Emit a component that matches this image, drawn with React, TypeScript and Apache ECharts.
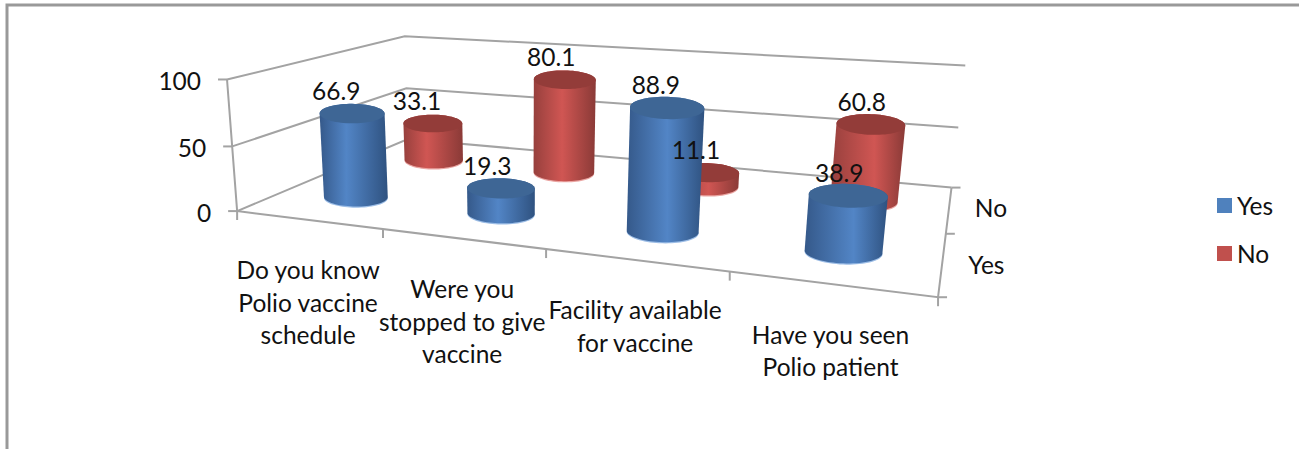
import React, { useEffect, useRef } from "react";
import * as echarts from "echarts";

const categories = [
  "Do you know\nPolio vaccine\nschedule",
  "Were you\nstopped to give\nvaccine",
  "Facility available\nfor vaccine",
  "Have you seen\nPolio patient",
];
const yesValues = [66.9, 19.3, 88.9, 38.9];
const noValues = [33.1, 80.1, 11.1, 60.8];
const valueTicks = [0, 50, 100];
const depthNames = ["Yes", "No"];

const FONT = "Lato";
const FONT_SIZE = 24.5;
const TEXT = "#111111";
const GRID_LINE = "#a3a3a3";

// Camera calibration of the 3D box: [u, v, w, screenX, screenY]
const calibration = [
  [0, 0, 0, 239, 211], [1, 0, 0, 938, 298], [1, 0, 1, 952, 187], [0, 0, 1, 406, 140],
  [0, 1, 0, 226, 80], [0, 1, 1, 406, 36], [1, 1, 1, 965, 66], [0.25, 0, 0, 383, 228],
  [0.5, 0, 0, 547, 249], [0.75, 0, 0, 729, 272], [0, 0.5, 1, 407, 88], [1, 0.5, 1, 958, 127],
  [0, 0.5, 0, 231, 146], [1, 0, 0.5, 946, 234],
];

function solveCamera(): number[] {
  const n = 11;
  const M = Array.from({ length: n }, () => new Array(n + 1).fill(0));
  const add = (r: number[], t: number) => {
    for (let i = 0; i < n; i++) {
      for (let j = 0; j < n; j++) M[i][j] += r[i] * r[j];
      M[i][n] += r[i] * t;
    }
  };
  for (const [u, v, w, px, py] of calibration) {
    const x = px / 1000;
    const y = py / 1000;
    add([u, v, w, 1, 0, 0, 0, 0, -x * u, -x * v, -x * w], x);
    add([0, 0, 0, 0, u, v, w, 1, -y * u, -y * v, -y * w], y);
  }
  for (let c = 0; c < n; c++) {
    let p = c;
    for (let r = c + 1; r < n; r++) if (Math.abs(M[r][c]) > Math.abs(M[p][c])) p = r;
    [M[c], M[p]] = [M[p], M[c]];
    for (let r = 0; r < n; r++) {
      if (r === c) continue;
      const f = M[r][c] / M[c][c];
      for (let k = c; k <= n; k++) M[r][k] -= f * M[c][k];
    }
  }
  return M.map((row, i) => row[n] / row[i]);
}
const cam = solveCamera();
function project(u: number, v: number, w: number): number[] {
  const d = cam[8] * u + cam[9] * v + cam[10] * w + 1;
  return [
    (1000 * (cam[0] * u + cam[1] * v + cam[2] * w + cam[3])) / d,
    (1000 * (cam[4] * u + cam[5] * v + cam[6] * w + cam[7])) / d,
  ];
}

function hull(pts: number[][]): number[][] {
  const s = pts.slice().sort((a, b) => a[0] - b[0] || a[1] - b[1]);
  const cross = (o: number[], a: number[], b: number[]) =>
    (a[0] - o[0]) * (b[1] - o[1]) - (a[1] - o[1]) * (b[0] - o[0]);
  const lo: number[][] = [];
  for (const p of s) {
    while (lo.length >= 2 && cross(lo[lo.length - 2], lo[lo.length - 1], p) <= 0) lo.pop();
    lo.push(p);
  }
  const up: number[][] = [];
  for (let i = s.length - 1; i >= 0; i--) {
    const p = s[i];
    while (up.length >= 2 && cross(up[up.length - 2], up[up.length - 1], p) <= 0) up.pop();
    up.push(p);
  }
  return lo.slice(0, -1).concat(up.slice(0, -1));
}

const RU = 0.052;
const ELLIPSE_RATIO = 0.3;
const rowCentre = [0.25, 0.75];

const palettes = [
  { edgeL: "#35598a", bright: "#5285c6", edgeR: "#2f5280", top: "#3e6695", rim: "#9cbde6" },
  { edgeL: "#97403d", bright: "#d05653", edgeR: "#8a3a37", top: "#933c39", rim: "#eaa5a2" },
];

function toUnit(params: any, api: any, cat: number, val: number) {
  const pt = api.coord([cat, val]);
  const g = params.coordSys;
  return { u: (pt[0] - g.x) / g.width, v: (g.y + g.height - pt[1]) / g.height };
}

function cylinderRender(row: number) {
  return (params: any, api: any) => {
    const { u, v } = toUnit(params, api, api.value(0), api.value(1));
    const w = rowCentre[row];
    const tilt = ((2.5 * u) / 180) * Math.PI;
    const ring = (lv: number) => {
      const c = project(u, lv, w);
      const a = ((project(u + RU, lv, w)[0] - project(u - RU, lv, w)[0]) / 2) * 0.96 + 5 * (1 - u);
      const b = a * ELLIPSE_RATIO;
      const out: number[][] = [];
      for (let i = 0; i < 72; i++) {
        const t = (i / 72) * Math.PI * 2;
        const ex = a * Math.cos(t);
        const ey = b * Math.sin(t);
        out.push([
          c[0] + ex * Math.cos(tilt) - ey * Math.sin(tilt),
          c[1] + ex * Math.sin(tilt) + ey * Math.cos(tilt),
        ]);
      }
      return out;
    };
    const top = ring(v);
    const bottom = ring(0);
    const pal = palettes[row];
    const mid = 0.36 + 0.26 * u;
    return {
      type: "group",
      children: [
        {
          type: "polygon",
          shape: { points: bottom.map((p) => [p[0], p[1] + 1.2]) },
          style: { fill: pal.rim },
        },
        {
          type: "polygon",
          shape: { points: hull(top.concat(bottom)) },
          style: {
            fill: new echarts.graphic.LinearGradient(0, 0, 1, 0, [
              { offset: 0, color: pal.edgeL },
              { offset: mid, color: pal.bright },
              { offset: 1, color: pal.edgeR },
            ]),
          },
        },
        { type: "polygon", shape: { points: top }, style: { fill: pal.top } },
      ],
    };
  };
}

function labelRender(params: any, api: any) {
  const { u, v } = toUnit(params, api, api.value(0), api.value(1));
  const p = project(u, v, rowCentre[api.value(2)]);
  return {
    type: "text",
    x: p[0] - 17 + 9 * u,
    y: p[1] - 23,
    style: {
      text: String(api.value(1)),
      fill: TEXT,
      font: `${FONT_SIZE}px ${FONT}`,
      align: "center",
      verticalAlign: "middle",
    },
  };
}

function frameRender(params: any, api: any) {
  const line = (pts: number[][]) => ({
    type: "polyline",
    shape: { points: pts },
    style: { stroke: GRID_LINE, lineWidth: 2, fill: "none" },
  });
  const text = (t: string, x: number, y: number, align: string) => ({
    type: "text",
    x,
    y,
    style: { text: t, fill: TEXT, font: `${FONT_SIZE}px ${FONT}`, align, verticalAlign: "middle" },
  });
  const children: any[] = [];
  valueTicks.forEach((val) => {
    const { v } = toUnit(params, api, 0, val);
    children.push(line([project(0, v, 0), project(0, v, 1), project(1, v, 1)]));
    const a = project(0, v, 0);
    children.push(line([a, [a[0] - 9, a[1]]]));
    children.push(text(String(val), a[0] - 26, a[1] + 1, "right"));
  });
  const fl = project(0, 0, 0);
  const fr = project(1, 0, 0);
  const br = project(1, 0, 1);
  children.push(line([project(0, 1, 0), fl, [fl[0], fl[1] + 9]]));
  children.push(line([fl, fr, br]));
  children.push(line([fr, [fr[0], fr[1] + 9]]));
  children.push(line([fr, [fr[0] + 9, fr[1]]]));
  categories.forEach((c, i) => {
    const t = project((i + 1) / categories.length, 0, 0);
    if (i < categories.length - 1) children.push(line([t, [t[0], t[1] + 9]]));
    const m = project((i + 0.5) / categories.length, 0, 0);
    const lines = c.split("\n").length;
    children.push({
      type: "text",
      x: m[0],
      y: m[1] + 50 + ((lines - 1) * 32.5) / 2,
      style: {
        text: c,
        fill: TEXT,
        font: `${FONT_SIZE}px ${FONT}`,
        align: "center",
        verticalAlign: "middle",
        lineHeight: 32.5,
      },
    });
  });
  const midR = project(1, 0, 0.5);
  children.push(line([br, [br[0] + 9, br[1]]]));
  children.push(line([midR, [midR[0] + 9, midR[1]]]));
  depthNames.forEach((name, i) => {
    const p = project(1, 0, rowCentre[i]);
    children.push(text(name, p[0] + 26, p[1] + (i === 0 ? 2 : -1), "left"));
  });
  return { type: "group", children };
}

export default function App() {
  const ref = useRef<HTMLDivElement>(null);
  useEffect(() => {
    const chart = echarts.init(ref.current!, undefined, { renderer: "svg" });
    const pairs = (vals: number[]) => vals.map((v, i) => [i, v]);
    const labelData = [
      ...yesValues.map((v, i) => [i, v, 0]),
      ...noValues.map((v, i) => [i, v, 1]),
    ];
    chart.setOption({
      animation: false,
      backgroundColor: "#ffffff",
      textStyle: { fontFamily: FONT },
      grid: { left: 240, top: 80, width: 700, height: 130 },
      xAxis: { type: "category", data: categories, show: false },
      yAxis: { type: "value", min: 0, max: 100, interval: 50, show: false },
      legend: {
        data: ["Yes", "No"],
        orient: "vertical",
        left: 1212,
        top: 188,
        icon: "rect",
        itemWidth: 15,
        itemHeight: 15,
        itemGap: 23,
        selectedMode: false,
        textStyle: { fontFamily: FONT, fontSize: FONT_SIZE, color: TEXT },
      },
      graphic: [
        {
          type: "polyline",
          silent: true,
          shape: { points: [[7, 449], [7, 5], [1299, 5]] },
          style: { stroke: "#999999", lineWidth: 3, fill: "none" },
        },
      ],
      series: [
        { type: "custom", name: "frame", z: 1, silent: true, renderItem: frameRender, data: [[0, 0]] },
        {
          type: "custom",
          name: "No",
          z: 3,
          silent: true,
          itemStyle: { color: "#C0504D" },
          renderItem: cylinderRender(1),
          data: pairs(noValues),
        },
        {
          type: "custom",
          name: "Yes",
          z: 4,
          silent: true,
          itemStyle: { color: "#4F81BD" },
          renderItem: cylinderRender(0),
          data: pairs(yesValues),
        },
        { type: "custom", name: "labels", z: 6, silent: true, renderItem: labelRender, data: labelData },
      ],
    });
    return () => chart.dispose();
  }, []);
  return <div ref={ref} style={{ position: "fixed", left: 0, top: 0, width: 1299, height: 449 }} />;
}
